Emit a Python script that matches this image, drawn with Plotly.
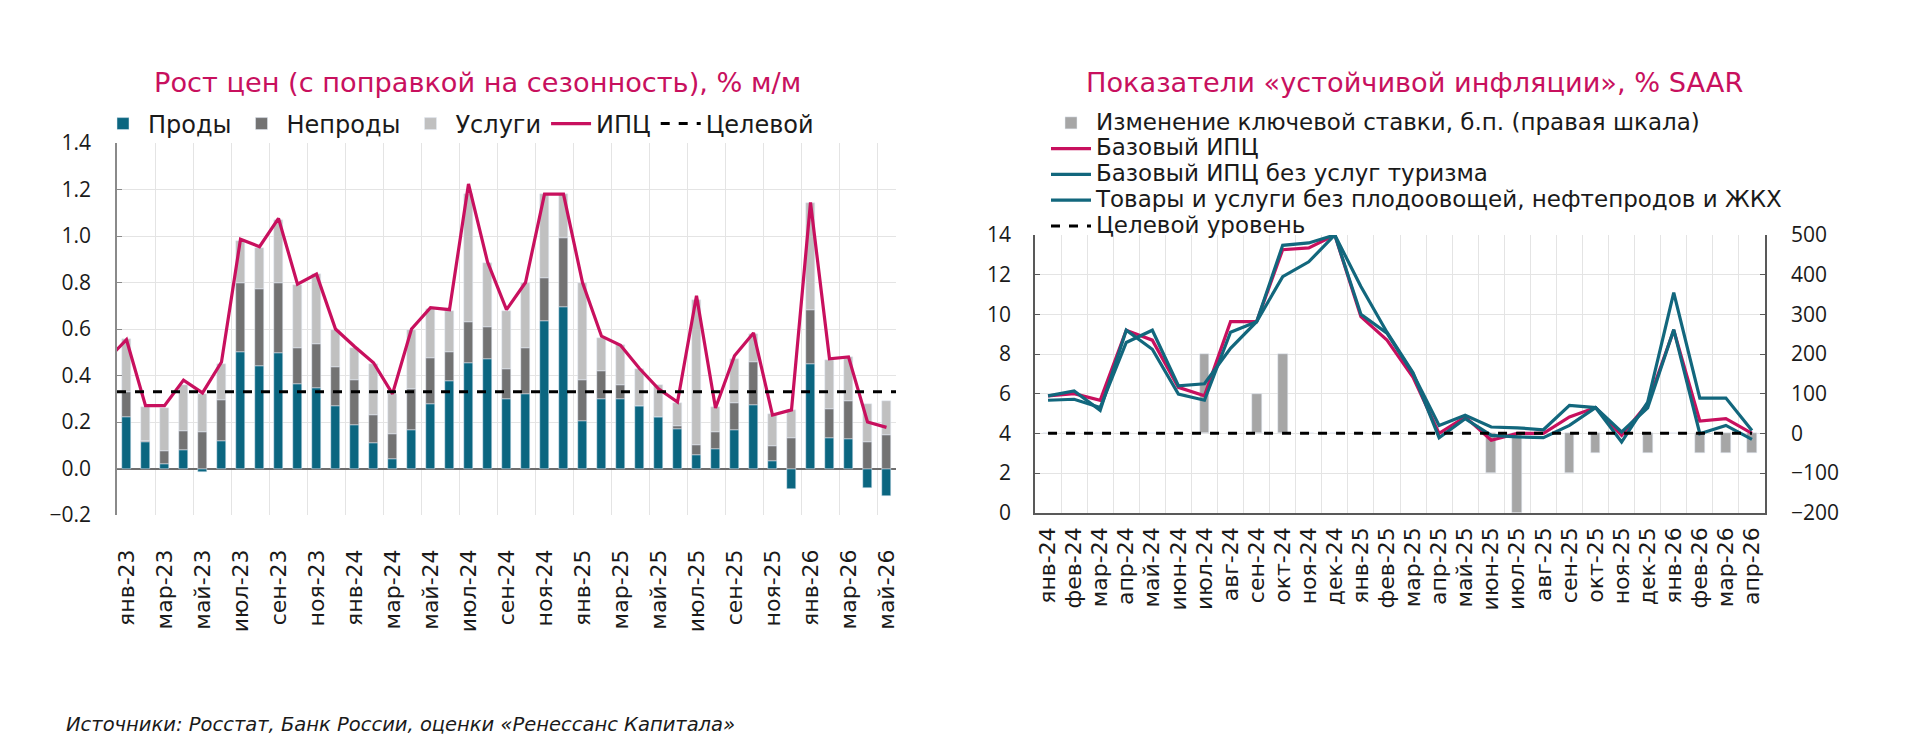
import plotly.graph_objects as go

# ---------------- Left chart data ----------------
months_left = ["янв-23", "фев-23", "мар-23", "апр-23", "май-23", "июн-23", "июл-23", "авг-23", "сен-23",
               "окт-23", "ноя-23", "дек-23", "янв-24", "фев-24", "мар-24", "апр-24", "май-24", "июн-24",
               "июл-24", "авг-24", "сен-24", "окт-24", "ноя-24", "дек-24", "янв-25", "фев-25", "мар-25",
               "апр-25", "май-25", "июн-25", "июл-25", "авг-25", "сен-25", "окт-25", "ноя-25", "дек-25",
               "янв-26", "фев-26", "мар-26", "апр-26", "май-26"]
food = [0.22, 0.115, 0.02, 0.08, -0.013, 0.12, 0.50, 0.44, 0.495, 0.364, 0.345, 0.27, 0.188, 0.11, 0.04,
        0.167, 0.278, 0.376, 0.455, 0.473, 0.30, 0.32, 0.635, 0.695, 0.204, 0.297, 0.297, 0.269, 0.221,
        0.168, 0.06, 0.082, 0.167, 0.272, 0.033, -0.086, 0.45, 0.131, 0.125, -0.082, -0.118]
nonfood = [0.108, 0.005, 0.056, 0.08, 0.158, 0.176, 0.30, 0.333, 0.301, 0.156, 0.19, 0.165, 0.192, 0.122,
           0.107, 0.175, 0.198, 0.124, 0.177, 0.136, 0.127, 0.20, 0.185, 0.295, 0.176, 0.123, 0.063, 0.0,
           0.0, 0.014, 0.04, 0.075, 0.113, 0.185, 0.065, 0.13, 0.233, 0.124, 0.165, 0.112, 0.144]
services = [0.23, 0.143, 0.184, 0.20, 0.162, 0.154, 0.18, 0.177, 0.274, 0.268, 0.30, 0.162, 0.14, 0.218,
            0.173, 0.252, 0.209, 0.176, 0.548, 0.276, 0.25, 0.28, 0.36, 0.19, 0.42, 0.143, 0.17, 0.161,
            0.137, 0.098, 0.624, 0.107, 0.19, 0.123, 0.137, 0.122, 0.461, 0.213, 0.19, 0.166, 0.148]
cpi = [0.554, 0.27, 0.27, 0.38, 0.325, 0.458, 0.986, 0.954, 1.076, 0.793, 0.836, 0.60, 0.525, 0.455,
       0.321, 0.60, 0.692, 0.683, 1.224, 0.889, 0.683, 0.80, 1.18, 1.18, 0.80, 0.569, 0.53, 0.43, 0.343,
       0.286, 0.743, 0.26, 0.485, 0.583, 0.23, 0.252, 1.144, 0.472, 0.48, 0.20, 0.177]
cpi_prev = 0.47          # дек-22, partly visible at the left edge
target_mm = 0.33

# ---------------- Right chart data ----------------
months_right = ["янв-24", "фев-24", "мар-24", "апр-24", "май-24", "июн-24", "июл-24", "авг-24", "сен-24",
                "окт-24", "ноя-24", "дек-24", "янв-25", "фев-25", "мар-25", "апр-25", "май-25", "июн-25",
                "июл-25", "авг-25", "сен-25", "окт-25", "ноя-25", "дек-25", "янв-26", "фев-26", "мар-26",
                "апр-26"]
key_rate_change = [0, 0, 0, 0, 0, 0, 200, 0, 100, 200, 0, 0, 0, 0, 0, 0, 0, -100, -200, 0, -100, -50, 0,
                   -50, 0, -50, -50, -50]
core_cpi = [5.89, 6.0, 5.67, 9.2, 8.7, 6.32, 5.9, 9.63, 9.63, 13.26, 13.35, 14.0, 9.88, 8.7, 6.83, 4.0,
            4.83, 3.65, 4.0, 4.0, 4.83, 5.3, 3.9, 5.5, 9.2, 4.62, 4.74, 4.0]
core_ex_tourism = [5.89, 6.14, 5.16, 9.2, 8.24, 5.98, 5.67, 9.1, 9.63, 13.48, 13.6, 14.0, 10.0, 9.05, 7.0,
                   4.4, 4.91, 4.32, 4.28, 4.18, 5.41, 5.3, 3.56, 5.58, 11.1, 5.78, 5.78, 4.15]
ex_volatile = [5.67, 5.72, 5.3, 8.58, 9.2, 6.4, 6.5, 8.29, 9.63, 11.9, 12.65, 14.0, 11.4, 9.1, 7.05, 3.78,
               4.74, 3.9, 3.82, 3.78, 4.40, 5.3, 4.07, 5.29, 9.23, 3.98, 4.4, 3.7]
target_saar = 4

# ---------------- Styles ----------------
FONT = "DejaVu Sans"
NUMFONT = "Open Sans"
TEAL = "#0b6680"
DGRAY = "#737373"
LGRAY = "#c0c0c0"
BARGRAY = "#a6a6a6"
CRIMSON = "#c8105e"
LINE_TEAL = "#12677d"
GRID = "#e4e4e4"
TXT = "#1a1a1a"


def big(s):
    # legend text drawn larger than the legend's row height
    return '<span style="font-size:23px">' + s + "</span>"


nL = len(months_left)
xL = list(range(nL))
xL_range = [-0.5, nL - 0.5]
nR = len(months_right)
xR = list(range(nR))
xR_range = [-0.5, nR - 0.5]

fig = go.Figure()

# Left chart
fig.add_trace(go.Bar(x=xL, y=food, name="Проды", marker_color=TEAL, width=0.44,
                     xaxis="x", yaxis="y", legend="legend"))
fig.add_trace(go.Bar(x=xL, y=nonfood, name="Непроды", marker_color=DGRAY, width=0.44,
                     xaxis="x", yaxis="y", legend="legend"))
fig.add_trace(go.Bar(x=xL, y=services, name="Услуги", marker_color=LGRAY, width=0.44,
                     xaxis="x", yaxis="y", legend="legend"))
fig.add_trace(go.Scatter(x=[-1] + xL, y=[cpi_prev] + cpi, name="ИПЦ", mode="lines",
                         line=dict(color=CRIMSON, width=3.2), xaxis="x", yaxis="y", legend="legend"))
fig.add_trace(go.Scatter(x=xL_range, y=[target_mm, target_mm], name="Целевой", mode="lines",
                         line=dict(color="black", width=3, dash="dash"), xaxis="x", yaxis="y",
                         legend="legend"))

# Right chart
fig.add_trace(go.Bar(x=xR, y=key_rate_change, name=big("Изменение ключевой ставки, б.п. (правая шкала)"),
                     marker_color=BARGRAY, width=0.38, xaxis="x2", yaxis="y3", legend="legend2"))
fig.add_trace(go.Scatter(x=xR, y=core_cpi, name=big("Базовый ИПЦ"), mode="lines",
                         line=dict(color=CRIMSON, width=3.2), xaxis="x2", yaxis="y4", legend="legend2"))
fig.add_trace(go.Scatter(x=xR, y=core_ex_tourism, name=big("Базовый ИПЦ без услуг туризма"), mode="lines",
                         line=dict(color=LINE_TEAL, width=3.2), xaxis="x2", yaxis="y4", legend="legend2"))
fig.add_trace(go.Scatter(x=xR, y=ex_volatile,
                         name=big("Товары и услуги без плодоовощей, нефтепродов и ЖКХ"),
                         mode="lines", line=dict(color=LINE_TEAL, width=3.2), xaxis="x2", yaxis="y4",
                         legend="legend2"))
fig.add_trace(go.Scatter(x=xR, y=[target_saar] * nR, name=big("Целевой уровень"), mode="lines",
                         line=dict(color="black", width=3, dash="dash"), xaxis="x2", yaxis="y4",
                         legend="legend2"))

W, H = 1920, 740
numfont = dict(family=NUMFONT, size=21, color=TXT)
xfont = dict(family=FONT, size=22, color=TXT)

fig.update_layout(
    width=W, height=H, margin=dict(l=0, r=0, t=0, b=0, autoexpand=False),
    paper_bgcolor="white", plot_bgcolor="white",
    barmode="relative", bargap=0,
    font=dict(family=FONT, size=21, color=TXT),
    xaxis=dict(domain=[117 / W, 896 / W], anchor="y", range=xL_range,
               tickmode="array", tickvals=xL[::2], ticktext=months_left[::2],
               tickangle=-90, tickfont=xfont, showgrid=False, zeroline=False, showline=False,
               ticks="", ticklabelstandoff=29,
               minor=dict(tickmode="linear", tick0=1.5, dtick=2, showgrid=True, gridcolor=GRID,
                          gridwidth=1)),
    yaxis=dict(domain=[1 - 515 / H, 1 - 143 / H], anchor="x", range=[-0.2, 1.4], dtick=0.2,
               tickformat=".1f", tickfont=numfont, showgrid=True, gridcolor=GRID,
               zeroline=True, zerolinecolor="#6e6e6e", zerolinewidth=1.5,
               showline=True, linecolor="#8a8a8a", linewidth=1.5, ticks="inside", ticklen=5,
               tickcolor="#8a8a8a", ticklabelstandoff=20),
    xaxis2=dict(domain=[1035 / W, 1765 / W], anchor="y3", range=xR_range,
                tickmode="array", tickvals=xR, ticktext=months_right,
                tickangle=-90, tickfont=xfont, showgrid=False, zeroline=False,
                showline=True, linecolor="#595959", linewidth=1.5, ticks="", ticklabelstandoff=4,
                minor=dict(tickmode="linear", tick0=-0.5, dtick=1, showgrid=True, gridcolor=GRID,
                           gridwidth=1)),
    yaxis3=dict(domain=[1 - 512.7 / H, 1 - 235 / H], anchor="x2", side="right", range=[-200, 500],
                dtick=100, tickfont=numfont, showgrid=True, gridcolor=GRID, zeroline=False,
                showline=True, linecolor="#595959", linewidth=1.5, ticks="inside", ticklen=5,
                tickcolor="#595959", ticklabelstandoff=20),
    yaxis4=dict(overlaying="y3", anchor="x2", side="left", range=[0, 14], dtick=2, tickfont=numfont,
                showgrid=False, zeroline=False, showline=True, linecolor="#595959", linewidth=1.5,
                ticks="inside", ticklen=5, tickcolor="#595959", ticklabelstandoff=18),
    legend=dict(orientation="h", x=98 / W, xanchor="left", y=1 - 124 / H, yanchor="middle",
                font=dict(family=FONT, size=24, color=TXT), bgcolor="rgba(0,0,0,0)",
                itemwidth=40, traceorder="normal"),
    legend2=dict(orientation="v", x=1046 / W, xanchor="left", y=1 - 105 / H, yanchor="top",
                 font=dict(family=FONT, size=17.5, color=TXT), bgcolor="rgba(0,0,0,0)",
                 itemwidth=40, traceorder="normal", tracegroupgap=0),
    annotations=[
        dict(text="Рост цен (с поправкой на сезонность), % м/м", x=477 / W, y=1 - 83 / H,
             xref="paper", yref="paper", xanchor="center", yanchor="middle", showarrow=False,
             font=dict(family=FONT, size=27.2, color=CRIMSON)),
        dict(text="Показатели «устойчивой инфляции», % SAAR", x=1414 / W, y=1 - 83 / H,
             xref="paper", yref="paper", xanchor="center", yanchor="middle", showarrow=False,
             font=dict(family=FONT, size=27.2, color=CRIMSON)),
        dict(text="<i>Источники: Росстат, Банк России, оценки «Ренессанс Капитала»</i>", x=64 / W,
             y=1 - 724 / H, xref="paper", yref="paper", xanchor="left", yanchor="middle",
             showarrow=False, font=dict(family=FONT, size=19.5, color=TXT)),
    ],
)

fig.write_html("out.html")
